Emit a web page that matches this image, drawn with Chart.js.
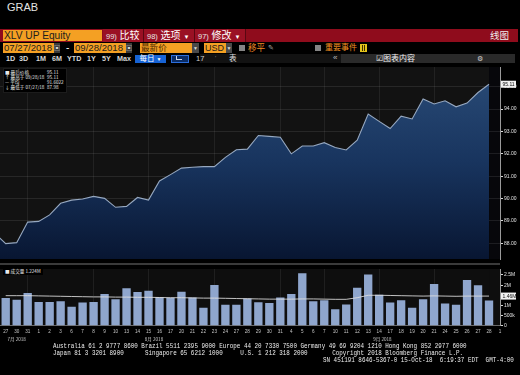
<!DOCTYPE html>
<html><head><meta charset="utf-8">
<script src="https://cdn.jsdelivr.net/npm/chart.js@4.4.0/dist/chart.umd.min.js"></script>
<style>
html,body{margin:0;padding:0;background:#000;}
body{width:520px;height:375px;position:relative;overflow:hidden;font-family:"Liberation Sans",Arial,"Noto Sans CJK SC",sans-serif;}
.a{position:absolute;white-space:nowrap;}
.org{background:#f4a023;color:#1c1c1c;}
.mono{font-family:"Liberation Mono","DejaVu Sans Mono",monospace;font-size:5.9px;color:#ececec;transform:scaleY(1.3);transform-origin:0 50%;line-height:6px;white-space:pre;}
.lg{font-size:4.6px;line-height:5px;color:#e8e8e8;font-family:"Noto Sans CJK SC","Liberation Sans",sans-serif;}
</style></head><body>

<!-- title -->
<div class="a" style="left:7px;top:1px;font-size:11px;color:#e4e4e4;">GRAB</div>

<!-- row 1 : red bar -->
<div class="a" style="left:0;top:29px;width:518px;height:13px;background:#8f0c1c"></div>
<div class="a" style="left:103px;top:29px;width:142px;height:13px;background:#9a1124"></div>
<div class="a" style="left:143px;top:29px;width:1px;height:13px;background:#5a0712"></div>
<div class="a" style="left:194px;top:29px;width:1px;height:13px;background:#5a0712"></div>
<div class="a" style="left:245px;top:29px;width:1px;height:13px;background:#5a0712"></div>
<div class="a org" style="left:3px;top:30px;width:98px;height:11px;font-size:10.2px;line-height:11px;padding-left:1px;">XLV UP Equity</div>
<div class="a" style="left:106px;top:29px;height:13px;line-height:13px;color:#fff;font-size:10px;"><span style="font-size:7.5px;color:#e6e6e6">99)</span> 比较</div>
<div class="a" style="left:147px;top:29px;height:13px;line-height:13px;color:#fff;font-size:10px;"><span style="font-size:7.5px;color:#e6e6e6">98)</span> 选项 <span style="font-size:6px">▼</span></div>
<div class="a" style="left:198px;top:29px;height:13px;line-height:13px;color:#fff;font-size:10px;"><span style="font-size:7.5px;color:#e6e6e6">97)</span> 修改 <span style="font-size:6px">▼</span></div>
<div class="a" style="left:490px;top:29px;height:13px;line-height:13px;color:#f0f0f0;font-size:9.5px;">线图</div>

<!-- row 2 -->
<div class="a org" style="left:3px;top:43px;width:50px;height:10px;font-size:9.6px;line-height:10px;padding-left:1px;">07/27/2018</div>
<div class="a" style="left:54px;top:43px;width:6px;height:10px;background:#3c3c3c;color:#ddd;font-size:6px;line-height:10px;text-align:center">▣</div>
<div class="a" style="left:66px;top:42px;color:#fff;font-size:10px;line-height:11px;">-</div>
<div class="a org" style="left:74px;top:43px;width:51px;height:10px;font-size:9.6px;line-height:10px;padding-left:1px;">09/28/2018</div>
<div class="a" style="left:126px;top:43px;width:6px;height:10px;background:#3c3c3c;color:#ddd;font-size:6px;line-height:10px;text-align:center">▣</div>
<div class="a org" style="left:140px;top:43px;width:51px;height:10px;font-size:8.6px;line-height:10px;padding-left:1px;color:#4a2600">最新价</div>
<div class="a" style="left:192px;top:43px;width:7px;height:10px;background:#4a4a4a;color:#ddd;font-size:5px;line-height:10px;text-align:center">▼</div>
<div class="a org" style="left:204px;top:43px;width:21px;height:10px;font-size:9px;line-height:10px;padding-left:1px;">USD</div>
<div class="a" style="left:226px;top:43px;width:6px;height:10px;background:#4a4a4a;color:#ddd;font-size:5px;line-height:10px;text-align:center">▼</div>
<div class="a" style="left:239px;top:45px;width:6px;height:6px;background:#858585"></div>
<div class="a" style="left:248px;top:43px;color:#f08a24;font-size:8.6px;line-height:10px;">移平</div>
<div class="a" style="left:268px;top:43px;color:#aaa;font-size:7px;line-height:10px;">✎</div>
<div class="a" style="left:315px;top:45px;width:6px;height:6px;background:#858585"></div>
<div class="a" style="left:325px;top:43px;color:#f29020;font-size:8px;line-height:10px;">重要事件</div>
<div class="a" style="left:360px;top:44px;width:7px;height:8px;background:#e3c21a"></div>
<div class="a" style="left:362px;top:45px;width:1px;height:6px;background:#3a3000"></div>
<div class="a" style="left:364px;top:45px;width:1px;height:6px;background:#3a3000"></div>

<!-- row 3 -->
<div class="a" style="left:200px;top:54px;width:141px;height:9px;background:#121212"></div>
<div class="a" style="left:341px;top:54px;width:174px;height:9px;background:#2a2a2a"></div>
<div class="a" style="left:6px;top:54px;color:#d6d6d6;font-size:7.2px;font-weight:bold;line-height:9px;">1D</div>
<div class="a" style="left:19px;top:54px;color:#d6d6d6;font-size:7.2px;font-weight:bold;line-height:9px;">3D</div>
<div class="a" style="left:36px;top:54px;color:#d6d6d6;font-size:7.2px;font-weight:bold;line-height:9px;">1M</div>
<div class="a" style="left:52px;top:54px;color:#d6d6d6;font-size:7.2px;font-weight:bold;line-height:9px;">6M</div>
<div class="a" style="left:67px;top:54px;color:#d6d6d6;font-size:7.2px;font-weight:bold;line-height:9px;">YTD</div>
<div class="a" style="left:87px;top:54px;color:#d6d6d6;font-size:7.2px;font-weight:bold;line-height:9px;">1Y</div>
<div class="a" style="left:102px;top:54px;color:#d6d6d6;font-size:7.2px;font-weight:bold;line-height:9px;">5Y</div>
<div class="a" style="left:117px;top:54px;color:#d6d6d6;font-size:7.2px;font-weight:bold;line-height:9px;">Max</div>
<div class="a" style="left:135px;top:55px;width:31px;height:8px;background:#1763d4;color:#fff;font-size:7.5px;line-height:8px;text-align:center;">每日 <span style="font-size:5px">▼</span></div>
<div class="a" style="left:171px;top:55px;width:16px;height:6px;background:#0b2d66;border:1px solid #2c6edc;"></div>
<div class="a" style="left:176px;top:56px;width:5px;height:3px;border-left:1px solid #cfd8ea;border-bottom:1px solid #cfd8ea;"></div>
<div class="a" style="left:196px;top:54px;color:#cfcfcf;font-size:7.5px;line-height:9px;">17</div>
<div class="a" style="left:215px;top:54px;color:#888;font-size:6px;line-height:8px;">'</div>
<div class="a" style="left:229px;top:54px;color:#e0e0e0;font-size:7.5px;line-height:9px;">表</div>
<div class="a" style="left:333px;top:53px;color:#bcbcbc;font-size:8px;line-height:10px;">«</div>
<div class="a" style="left:376px;top:54px;color:#f0f0f0;font-size:8px;line-height:9px;">☑图表内容</div>
<div class="a" style="left:477px;top:54px;color:#cfcfcf;font-size:7px;line-height:9px;">⚙</div>

<!-- charts -->
<div class="a" style="left:0;top:63px;width:520px;height:200px;"><canvas id="price" width="520" height="200"></canvas></div>
<div class="a" style="left:0;top:263px;width:500px;height:2px;background:#3a3a3a"></div>
<div class="a" style="left:0;top:265px;width:520px;height:80px;"><canvas id="vol" width="520" height="80"></canvas></div>

<!-- legends -->
<div class="a" style="left:3px;top:68px;width:62px;height:23px;background:#000;border:1px solid #1c1c1c;"></div>
<div class="a lg" style="left:5px;top:70px;">■ 最后价格</div><div class="a lg" style="left:47px;top:70px;">95.11</div>
<div class="a lg" style="left:5px;top:75px;">↑ 最高于 09/28/18</div><div class="a lg" style="left:47px;top:75px;">95.11</div>
<div class="a lg" style="left:5px;top:80px;">— 平均</div><div class="a lg" style="left:47px;top:80px;">91.6022</div>
<div class="a lg" style="left:5px;top:85px;">↓ 最低于 07/27/18</div><div class="a lg" style="left:47px;top:85px;">87.98</div>
<div class="a" style="left:3px;top:268px;width:40px;height:7px;background:#000;"></div>
<div class="a lg" style="left:5px;top:269px;">■ 成交量 1.224M</div>

<!-- footer -->
<div class="a mono" style="left:53px;top:344px;">Australia 61 2 9777 8600 Brazil 5511 2395 9000 Europe 44 20 7330 7500 Germany 49 69 9204 1210 Hong Kong 852 2977 6000</div>
<div class="a mono" style="left:53px;top:351px;">Japan 81 3 3201 8900      Singapore 65 6212 1000     U.S. 1 212 318 2000       Copyright 2018 Bloomberg Finance L.P.</div>
<div class="a mono" style="left:323px;top:358px;">SN 451191 8646-5367-0 15-Oct-18  6:19:37 EDT  GMT-4:00</div>

<script>
// ---------------- data ----------------
const priorClose = 88.45; // 07/26/18, only its segment into 07/27 is visible
const dayLabels = ['27','30','31','1','2','3','6','7','8','9','10','13','14','15','16','17','20','21','22','23','24','27','28','29','30','31','4','5','6','7','10','11','12','13','14','17','18','19','20','21','24','25','26','27','28','1'];
const monthLabels = ['7月 2018','8月 2018','9月 2018'];
const monthAnchors = [1, 13.5, 34.3];
const closes = [87.99,88.03,88.95,88.98,89.27,89.79,89.93,89.98,90.10,90.01,89.61,89.65,90.05,89.93,90.79,91.07,91.36,91.40,91.43,91.43,91.84,92.18,92.21,92.82,92.78,92.74,92.00,92.35,92.35,92.50,92.28,92.17,92.61,93.78,93.45,93.13,93.68,93.56,94.45,94.23,94.37,94.10,94.27,94.74,95.11];
const volumes = [1.36,1.28,1.61,1.17,1.17,1.20,0.94,1.14,1.17,1.56,1.30,1.84,1.66,1.72,1.40,1.38,1.67,1.39,0.88,2.01,1.03,1.03,1.34,1.16,1.12,1.39,1.56,2.58,1.20,1.25,0.81,1.05,1.87,2.53,1.52,1.14,1.25,0.89,1.30,2.05,1.10,1.03,2.25,1.99,1.24];
const volumeAvg = [1.48,1.48,1.48,1.47,1.46,1.45,1.44,1.43,1.42,1.42,1.41,1.41,1.40,1.40,1.39,1.38,1.38,1.37,1.36,1.36,1.35,1.34,1.33,1.32,1.31,1.31,1.31,1.32,1.32,1.31,1.30,1.30,1.38,1.50,1.50,1.49,1.48,1.47,1.46,1.47,1.46,1.45,1.46,1.46,1.46];
const priceTicks = [88,89,90,91,92,93,94,95];
const volumeTicks = [0,0.5,1,1.5,2,2.5];
const volumeTickLabels = ['0','500k','1M','1.5M','2M','2.5M'];
const gridIdx = [2,8,13,19,25,29,34,39];
const lastPriceText = '95.11';
const lastAvgText = '1.46M';

// ---------------- shared ----------------
const X_MIN = -0.52, X_MAX = 45;
const tinyFont = {family:'Liberation Sans, Arial, sans-serif', size:5};

function valueBox(id){
  return {
    id: id,
    afterDraw(chart, args, opts){
      const c = chart.ctx, y = chart.scales.y.getPixelForValue(opts.value);
      c.save();
      c.fillStyle = '#f2f2f2';
      c.fillRect(chart.chartArea.right + 1, y - 3.5, 15, 7);
      c.fillStyle = '#111';
      c.font = '5px Liberation Sans, Arial, sans-serif';
      c.textBaseline = 'middle';
      c.fillText(opts.text, chart.chartArea.right + 2.5, y + 0.3);
      c.restore();
    }
  };
}

const panelBg = {
  id: 'panelBg',
  beforeDraw(chart, args, opts){
    const {ctx:c, chartArea:a} = chart;
    const xEnd = chart.scales.x.getPixelForValue(opts.lastIndex);
    c.save();
    c.fillStyle = opts.color;
    c.fillRect(a.left, a.top, xEnd - a.left, a.bottom - a.top);
    c.fillStyle = opts.tail;
    c.fillRect(xEnd, a.top, a.right - xEnd, a.bottom - a.top);
    c.restore();
  }
};

// ---------------- price chart ----------------
const pricePoints = [{x:-1, y:priorClose}].concat(closes.map((v,i)=>({x:i, y:v})));
new Chart(document.getElementById('price'), {
  type: 'line',
  data: { datasets: [{
    data: pricePoints,
    borderColor: 'rgb(150,168,192)',
    borderWidth: 1.1,
    pointRadius: 0,
    tension: 0,
    fill: 'start',
    backgroundColor: (ctx) => {
      const {chart} = ctx; const a = chart.chartArea;
      if (!a) return 'rgb(25,50,90)';
      const g = chart.ctx.createLinearGradient(0, a.top, 0, a.bottom);
      g.addColorStop(0, 'rgb(42,76,120)');
      g.addColorStop(0.5, 'rgb(24,52,94)');
      g.addColorStop(1, 'rgb(8,22,50)');
      return g;
    }
  }]},
  plugins: [panelBg, valueBox('priceBox')],
  options: {
    responsive: false, animation: false, devicePixelRatio: 1,
    layout: { padding: 0 },
    plugins: { legend:{display:false}, tooltip:{enabled:false},
      panelBg: {color:'#121212', tail:'#07070b', lastIndex: closes.length - 1},
      priceBox: {value: closes[closes.length-1], text: lastPriceText} },
    scales: {
      x: { type:'linear', min:X_MIN, max:X_MAX, z:1,
        afterBuildTicks: s => { s.ticks = gridIdx.map(v=>({value:v})); },
        afterFit: s => { s.height = 0; },
        ticks: {display:false},
        grid: {color:'rgba(255,255,255,0.07)', drawTicks:false},
        border: {display:false} },
      y: { position:'right', min:87.30, max:95.88, z:1,
        afterBuildTicks: s => { s.ticks = priceTicks.map(v=>({value:v})); },
        afterFit: s => { s.width = 20; },
        ticks: {color:'#e2e2e2', font:tinyFont, padding:1, callback: v => v.toFixed(2)},
        grid: {color:'rgba(255,255,255,0.09)', tickColor:'#d8d8d8', tickLength:3},
        border: {display:true, color:'#9a9a9a'} }
    }
  }
});

// ---------------- volume chart ----------------
const monthPlugin = {
  id: 'months',
  afterDraw(chart){
    const c = chart.ctx, x = chart.scales.x;
    c.save();
    c.fillStyle = '#c8c8c8';
    c.font = '4.6px Noto Sans CJK SC, sans-serif';
    c.textAlign = 'center'; c.textBaseline = 'middle';
    monthLabels.forEach((t,i) => c.fillText(t, x.getPixelForValue(monthAnchors[i]), 339 - 265));
    c.restore();
  }
};
new Chart(document.getElementById('vol'), {
  type: 'bar',
  data: { datasets: [
    { type:'line', data: volumeAvg.map((v,i)=>({x:i,y:v})), borderColor:'rgba(225,225,225,0.85)', borderWidth:1, pointRadius:0, tension:0, order:0 },
    { data: volumes.map((v,i)=>({x:i,y:v})), backgroundColor:'rgb(143,166,205)', borderWidth:0, barPercentage:0.76, categoryPercentage:1, order:1 }
  ]},
  plugins: [panelBg, monthPlugin, valueBox('volBox')],
  options: {
    responsive: false, animation: false, devicePixelRatio: 1,
    layout: { padding: {top:1, left:0, right:0, bottom:0} },
    plugins: { legend:{display:false}, tooltip:{enabled:false},
      panelBg: {color:'#0e0e0e', tail:'#0e0e0e', lastIndex: volumes.length - 1},
      volBox: {value: volumeAvg[volumeAvg.length-1], text: lastAvgText} },
    scales: {
      x: { type:'linear', min:X_MIN, max:X_MAX, offset:false,
        afterBuildTicks: s => { s.ticks = dayLabels.map((d,i)=>({value:i})); },
        afterFit: s => { s.height = 19.3; },
        ticks: {color:'#c4c4c4', font:{family:'Liberation Sans, Arial, sans-serif', size:4.6}, padding:3, autoSkip:false, maxRotation:0, callback:(v,i)=>dayLabels[i]},
        grid: {offset:false, drawTicks:false, color: ctx => (ctx.tick && gridIdx.includes(ctx.tick.value)) ? 'rgba(255,255,255,0.07)' : 'rgba(0,0,0,0)'},
        border: {display:true, color:'#6a6a6a'} },
      y: { position:'right', min:0, max:2.795,
        afterBuildTicks: s => { s.ticks = volumeTicks.map(v=>({value:v})); },
        afterFit: s => { s.width = 20; },
        ticks: {color:'#e2e2e2', font:tinyFont, padding:1, callback:(v,i)=>volumeTickLabels[i]},
        grid: {color:'rgba(0,0,0,0)', tickColor:'#d8d8d8', tickLength:3},
        border: {display:true, color:'#9a9a9a'} }
    }
  }
});
</script>
</body></html>
